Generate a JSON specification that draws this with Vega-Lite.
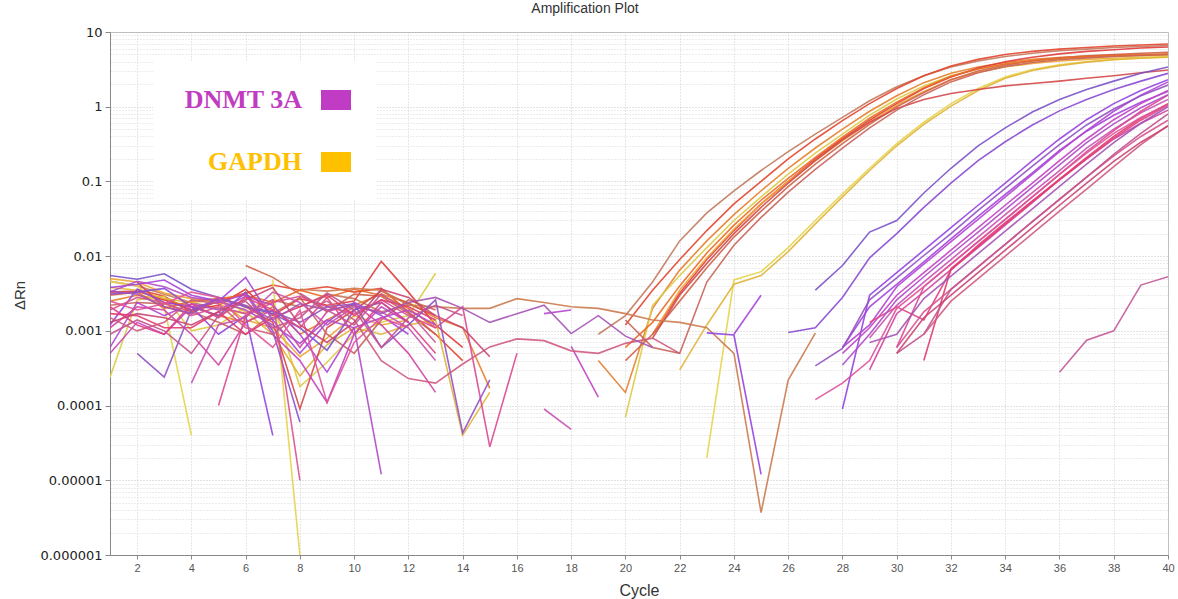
{
"$schema": "https://vega.github.io/schema/vega-lite/v6.json",
"width": 1058, "height": 523,
"autosize": "none",
"padding": {"left": 110, "top": 32, "right": 10, "bottom": 44},
"background": "white",
"title": {"text": "Amplification Plot", "font": "Liberation Sans", "fontSize": 14, "fontWeight": "normal", "color": "#333", "anchor": "middle", "frame": "group", "dx": -54, "offset": 10},
"config": {"view": {"stroke": "#bbbbbb"}},
"layer": [
{
"data": {"values": [
{"w":"G1","c":1,"v":0.0046},{"w":"G1","c":2,"v":0.004},{"w":"G1","c":3,"v":0.0031},{"w":"G1","c":4,"v":0.0024},{"w":"G1","c":5,"v":0.002},{"w":"G1","c":6,"v":0.0017},{"w":"G1","c":7,"v":0.0026},{"w":"G1","c":8,"v":0.0021},{"w":"G1","c":9,"v":0.0031},{"w":"G1","c":10,"v":0.0027},{"w":"G1","c":11,"v":0.0018},{"w":"G1","c":12,"v":0.0022},{"w":"G1","c":13,"v":null},{"w":"G1","c":19,"v":0.0009},{"w":"G1","c":20,"v":0.0016},{"w":"G1","c":21,"v":0.0045},{"w":"G1","c":22,"v":0.016},{"w":"G1","c":23,"v":0.038},{"w":"G1","c":24,"v":0.075},{"w":"G1","c":25,"v":0.14},{"w":"G1","c":26,"v":0.25},{"w":"G1","c":27,"v":0.43},{"w":"G1","c":28,"v":0.72},{"w":"G1","c":29,"v":1.2},{"w":"G1","c":30,"v":1.85},{"w":"G1","c":31,"v":2.6},{"w":"G1","c":32,"v":3.4},{"w":"G1","c":33,"v":4.1},{"w":"G1","c":34,"v":4.7},{"w":"G1","c":35,"v":5.2},{"w":"G1","c":36,"v":5.6},{"w":"G1","c":37,"v":5.9},{"w":"G1","c":38,"v":6.2},{"w":"G1","c":39,"v":6.4},{"w":"G1","c":40,"v":6.6},
{"w":"G2","c":2,"v":0.0036},{"w":"G2","c":3,"v":0.0029},{"w":"G2","c":4,"v":0.0018},{"w":"G2","c":5,"v":0.0025},{"w":"G2","c":6,"v":0.0032},{"w":"G2","c":7,"v":0.0041},{"w":"G2","c":8,"v":0.0035},{"w":"G2","c":9,"v":0.0039},{"w":"G2","c":10,"v":0.0033},{"w":"G2","c":11,"v":0.0037},{"w":"G2","c":12,"v":0.0018},{"w":"G2","c":13,"v":0.0009},{"w":"G2","c":14,"v":0.0004},{"w":"G2","c":15,"v":null},{"w":"G2","c":20,"v":0.0012},{"w":"G2","c":21,"v":0.0035},{"w":"G2","c":22,"v":0.009},{"w":"G2","c":23,"v":0.022},{"w":"G2","c":24,"v":0.05},{"w":"G2","c":25,"v":0.1},{"w":"G2","c":26,"v":0.2},{"w":"G2","c":27,"v":0.37},{"w":"G2","c":28,"v":0.65},{"w":"G2","c":29,"v":1.1},{"w":"G2","c":30,"v":1.75},{"w":"G2","c":31,"v":2.6},{"w":"G2","c":32,"v":3.5},{"w":"G2","c":33,"v":4.3},{"w":"G2","c":34,"v":5.0},{"w":"G2","c":35,"v":5.5},{"w":"G2","c":36,"v":5.9},{"w":"G2","c":37,"v":6.2},{"w":"G2","c":38,"v":6.5},{"w":"G2","c":39,"v":6.7},{"w":"G2","c":40,"v":6.9},
{"w":"G3","c":1,"v":0.0025},{"w":"G3","c":2,"v":0.003},{"w":"G3","c":3,"v":0.0026},{"w":"G3","c":4,"v":0.0021},{"w":"G3","c":5,"v":0.0016},{"w":"G3","c":6,"v":0.0013},{"w":"G3","c":7,"v":0.0021},{"w":"G3","c":8,"v":0.0009},{"w":"G3","c":9,"v":0.0014},{"w":"G3","c":10,"v":0.0022},{"w":"G3","c":11,"v":0.0031},{"w":"G3","c":12,"v":0.0024},{"w":"G3","c":13,"v":0.0015},{"w":"G3","c":14,"v":0.0011},{"w":"G3","c":15,"v":0.00017},{"w":"G3","c":16,"v":null},{"w":"G3","c":19,"v":0.0004},{"w":"G3","c":20,"v":0.00015},{"w":"G3","c":21,"v":0.002},{"w":"G3","c":22,"v":0.0065},{"w":"G3","c":23,"v":0.016},{"w":"G3","c":24,"v":0.036},{"w":"G3","c":25,"v":0.075},{"w":"G3","c":26,"v":0.15},{"w":"G3","c":27,"v":0.28},{"w":"G3","c":28,"v":0.5},{"w":"G3","c":29,"v":0.87},{"w":"G3","c":30,"v":1.4},{"w":"G3","c":31,"v":2.1},{"w":"G3","c":32,"v":2.8},{"w":"G3","c":33,"v":3.4},{"w":"G3","c":34,"v":3.9},{"w":"G3","c":35,"v":4.3},{"w":"G3","c":36,"v":4.55},{"w":"G3","c":37,"v":4.75},{"w":"G3","c":38,"v":4.9},{"w":"G3","c":39,"v":5.0},{"w":"G3","c":40,"v":5.1},
{"w":"G4","c":1,"v":0.00024},{"w":"G4","c":2,"v":0.0026},{"w":"G4","c":3,"v":0.0029},{"w":"G4","c":4,"v":0.001},{"w":"G4","c":5,"v":0.0012},{"w":"G4","c":6,"v":0.0021},{"w":"G4","c":7,"v":0.0024},{"w":"G4","c":8,"v":0.00018},{"w":"G4","c":9,"v":0.00038},{"w":"G4","c":10,"v":0.0009},{"w":"G4","c":11,"v":0.0013},{"w":"G4","c":12,"v":0.0016},{"w":"G4","c":13,"v":0.0059},{"w":"G4","c":14,"v":null},{"w":"G4","c":20,"v":0.00007},{"w":"G4","c":21,"v":0.0022},{"w":"G4","c":22,"v":0.0055},{"w":"G4","c":23,"v":0.013},{"w":"G4","c":24,"v":0.03},{"w":"G4","c":25,"v":0.062},{"w":"G4","c":26,"v":0.125},{"w":"G4","c":27,"v":0.24},{"w":"G4","c":28,"v":0.43},{"w":"G4","c":29,"v":0.77},{"w":"G4","c":30,"v":1.27},{"w":"G4","c":31,"v":1.9},{"w":"G4","c":32,"v":2.6},{"w":"G4","c":33,"v":3.2},{"w":"G4","c":34,"v":3.7},{"w":"G4","c":35,"v":4.1},{"w":"G4","c":36,"v":4.35},{"w":"G4","c":37,"v":4.55},{"w":"G4","c":38,"v":4.7},{"w":"G4","c":39,"v":4.8},{"w":"G4","c":40,"v":4.9},
{"w":"G5","c":1,"v":0.0033},{"w":"G5","c":2,"v":0.0034},{"w":"G5","c":3,"v":0.0026},{"w":"G5","c":4,"v":0.0019},{"w":"G5","c":5,"v":0.0022},{"w":"G5","c":6,"v":0.0036},{"w":"G5","c":7,"v":0.0016},{"w":"G5","c":8,"v":0.0027},{"w":"G5","c":9,"v":0.0022},{"w":"G5","c":10,"v":0.0025},{"w":"G5","c":11,"v":0.0085},{"w":"G5","c":12,"v":0.0033},{"w":"G5","c":13,"v":0.0012},{"w":"G5","c":14,"v":0.0006},{"w":"G5","c":15,"v":null},{"w":"G5","c":21,"v":0.0009},{"w":"G5","c":22,"v":0.0032},{"w":"G5","c":23,"v":0.009},{"w":"G5","c":24,"v":0.022},{"w":"G5","c":25,"v":0.05},{"w":"G5","c":26,"v":0.1},{"w":"G5","c":27,"v":0.2},{"w":"G5","c":28,"v":0.37},{"w":"G5","c":29,"v":0.66},{"w":"G5","c":30,"v":1.1},{"w":"G5","c":31,"v":1.75},{"w":"G5","c":32,"v":2.5},{"w":"G5","c":33,"v":3.3},{"w":"G5","c":34,"v":4.0},{"w":"G5","c":35,"v":4.6},{"w":"G5","c":36,"v":5.1},{"w":"G5","c":37,"v":5.5},{"w":"G5","c":38,"v":5.8},{"w":"G5","c":39,"v":6.1},{"w":"G5","c":40,"v":6.3},
{"w":"G6","c":1,"v":0.005},{"w":"G6","c":2,"v":0.0045},{"w":"G6","c":3,"v":0.0032},{"w":"G6","c":4,"v":0.0027},{"w":"G6","c":5,"v":0.0024},{"w":"G6","c":6,"v":0.0014},{"w":"G6","c":7,"v":0.0011},{"w":"G6","c":8,"v":0.00045},{"w":"G6","c":9,"v":0.0008},{"w":"G6","c":10,"v":0.0016},{"w":"G6","c":11,"v":0.0012},{"w":"G6","c":12,"v":0.0014},{"w":"G6","c":13,"v":null},{"w":"G6","c":21,"v":0.0009},{"w":"G6","c":22,"v":0.0035},{"w":"G6","c":23,"v":0.0095},{"w":"G6","c":24,"v":0.023},{"w":"G6","c":25,"v":0.05},{"w":"G6","c":26,"v":0.1},{"w":"G6","c":27,"v":0.19},{"w":"G6","c":28,"v":0.35},{"w":"G6","c":29,"v":0.62},{"w":"G6","c":30,"v":1.05},{"w":"G6","c":31,"v":1.6},{"w":"G6","c":32,"v":2.3},{"w":"G6","c":33,"v":2.9},{"w":"G6","c":34,"v":3.4},{"w":"G6","c":35,"v":3.8},{"w":"G6","c":36,"v":4.1},{"w":"G6","c":37,"v":4.3},{"w":"G6","c":38,"v":4.45},{"w":"G6","c":39,"v":4.55},{"w":"G6","c":40,"v":4.65},
{"w":"G7","c":6,"v":0.0075},{"w":"G7","c":7,"v":0.0052},{"w":"G7","c":8,"v":0.0031},{"w":"G7","c":9,"v":0.0018},{"w":"G7","c":10,"v":0.0031},{"w":"G7","c":11,"v":0.0029},{"w":"G7","c":12,"v":0.0017},{"w":"G7","c":13,"v":0.0009},{"w":"G7","c":14,"v":null},{"w":"G7","c":20,"v":0.0004},{"w":"G7","c":21,"v":0.0009},{"w":"G7","c":22,"v":0.0025},{"w":"G7","c":23,"v":0.007},{"w":"G7","c":24,"v":0.018},{"w":"G7","c":25,"v":0.04},{"w":"G7","c":26,"v":0.085},{"w":"G7","c":27,"v":0.17},{"w":"G7","c":28,"v":0.32},{"w":"G7","c":29,"v":0.58},{"w":"G7","c":30,"v":1.0},{"w":"G7","c":31,"v":1.55},{"w":"G7","c":32,"v":2.3},{"w":"G7","c":33,"v":3.0},{"w":"G7","c":34,"v":3.6},{"w":"G7","c":35,"v":4.1},{"w":"G7","c":36,"v":4.5},{"w":"G7","c":37,"v":4.8},{"w":"G7","c":38,"v":5.0},{"w":"G7","c":39,"v":5.2},{"w":"G7","c":40,"v":5.35},
{"w":"G8","c":1,"v":0.0046},{"w":"G8","c":2,"v":0.004},{"w":"G8","c":3,"v":0.0021},{"w":"G8","c":4,"v":0.00004},{"w":"G8","c":5,"v":null},{"w":"G8","c":7,"v":0.0048},{"w":"G8","c":8,"v":0.000001},{"w":"G8","c":9,"v":null},{"w":"G8","c":23,"v":0.00002},{"w":"G8","c":24,"v":0.0048},{"w":"G8","c":25,"v":0.0062},{"w":"G8","c":26,"v":0.013},{"w":"G8","c":27,"v":0.03},{"w":"G8","c":28,"v":0.068},{"w":"G8","c":29,"v":0.15},{"w":"G8","c":30,"v":0.32},{"w":"G8","c":31,"v":0.62},{"w":"G8","c":32,"v":1.1},{"w":"G8","c":33,"v":1.75},{"w":"G8","c":34,"v":2.5},{"w":"G8","c":35,"v":3.15},{"w":"G8","c":36,"v":3.65},{"w":"G8","c":37,"v":4.0},{"w":"G8","c":38,"v":4.3},{"w":"G8","c":39,"v":4.5},{"w":"G8","c":40,"v":4.65},
{"w":"G9","c":1,"v":0.0038},{"w":"G9","c":2,"v":0.0035},{"w":"G9","c":3,"v":0.0027},{"w":"G9","c":4,"v":0.0024},{"w":"G9","c":5,"v":0.0026},{"w":"G9","c":6,"v":0.0018},{"w":"G9","c":7,"v":0.0009},{"w":"G9","c":8,"v":0.00025},{"w":"G9","c":9,"v":0.00065},{"w":"G9","c":10,"v":0.0011},{"w":"G9","c":11,"v":0.0009},{"w":"G9","c":12,"v":0.0012},{"w":"G9","c":13,"v":0.0014},{"w":"G9","c":14,"v":0.00004},{"w":"G9","c":15,"v":0.00015},{"w":"G9","c":16,"v":null},{"w":"G9","c":22,"v":0.0003},{"w":"G9","c":23,"v":0.0012},{"w":"G9","c":24,"v":0.0042},{"w":"G9","c":25,"v":0.0055},{"w":"G9","c":26,"v":0.0115},{"w":"G9","c":27,"v":0.027},{"w":"G9","c":28,"v":0.062},{"w":"G9","c":29,"v":0.14},{"w":"G9","c":30,"v":0.3},{"w":"G9","c":31,"v":0.58},{"w":"G9","c":32,"v":1.02},{"w":"G9","c":33,"v":1.65},{"w":"G9","c":34,"v":2.4},{"w":"G9","c":35,"v":3.05},{"w":"G9","c":36,"v":3.55},{"w":"G9","c":37,"v":3.95},{"w":"G9","c":38,"v":4.25},{"w":"G9","c":39,"v":4.45},{"w":"G9","c":40,"v":4.6},
{"w":"G10","c":2,"v":0.0045},{"w":"G10","c":3,"v":0.0021},{"w":"G10","c":4,"v":0.0017},{"w":"G10","c":5,"v":0.0028},{"w":"G10","c":6,"v":0.0021},{"w":"G10","c":7,"v":0.0013},{"w":"G10","c":8,"v":0.00009},{"w":"G10","c":9,"v":0.0011},{"w":"G10","c":10,"v":0.0019},{"w":"G10","c":11,"v":0.0034},{"w":"G10","c":12,"v":0.0023},{"w":"G10","c":13,"v":0.0016},{"w":"G10","c":14,"v":null},{"w":"G10","c":21,"v":0.0008},{"w":"G10","c":22,"v":0.003},{"w":"G10","c":23,"v":0.008},{"w":"G10","c":24,"v":0.02},{"w":"G10","c":25,"v":0.045},{"w":"G10","c":26,"v":0.095},{"w":"G10","c":27,"v":0.19},{"w":"G10","c":28,"v":0.36},{"w":"G10","c":29,"v":0.62},{"w":"G10","c":30,"v":0.95},{"w":"G10","c":31,"v":1.25},{"w":"G10","c":32,"v":1.5},{"w":"G10","c":33,"v":1.7},{"w":"G10","c":34,"v":1.9},{"w":"G10","c":35,"v":2.05},{"w":"G10","c":36,"v":2.2},{"w":"G10","c":37,"v":2.4},{"w":"G10","c":38,"v":2.6},{"w":"G10","c":39,"v":2.85},{"w":"G10","c":40,"v":3.1},
{"w":"G11","c":1,"v":0.003},{"w":"G11","c":2,"v":0.0033},{"w":"G11","c":3,"v":0.002},{"w":"G11","c":4,"v":0.0025},{"w":"G11","c":5,"v":0.0027},{"w":"G11","c":6,"v":0.003},{"w":"G11","c":7,"v":0.0024},{"w":"G11","c":8,"v":0.0035},{"w":"G11","c":9,"v":0.0028},{"w":"G11","c":10,"v":0.0036},{"w":"G11","c":11,"v":0.003},{"w":"G11","c":12,"v":0.002},{"w":"G11","c":13,"v":0.0011},{"w":"G11","c":14,"v":null},{"w":"G11","c":20,"v":0.0006},{"w":"G11","c":21,"v":0.0013},{"w":"G11","c":22,"v":0.004},{"w":"G11","c":23,"v":0.011},{"w":"G11","c":24,"v":0.026},{"w":"G11","c":25,"v":0.056},{"w":"G11","c":26,"v":0.11},{"w":"G11","c":27,"v":0.21},{"w":"G11","c":28,"v":0.39},{"w":"G11","c":29,"v":0.7},{"w":"G11","c":30,"v":1.15},{"w":"G11","c":31,"v":1.8},{"w":"G11","c":32,"v":2.55},{"w":"G11","c":33,"v":3.2},{"w":"G11","c":34,"v":3.75},{"w":"G11","c":35,"v":4.15},{"w":"G11","c":36,"v":4.45},{"w":"G11","c":37,"v":4.65},{"w":"G11","c":38,"v":4.8},{"w":"G11","c":39,"v":4.9},{"w":"G11","c":40,"v":5.0},
{"w":"G12","c":1,"v":0.0022},{"w":"G12","c":2,"v":0.0024},{"w":"G12","c":3,"v":0.0023},{"w":"G12","c":4,"v":0.0018},{"w":"G12","c":5,"v":0.0013},{"w":"G12","c":6,"v":0.0009},{"w":"G12","c":7,"v":0.0017},{"w":"G12","c":8,"v":0.0028},{"w":"G12","c":9,"v":0.0009},{"w":"G12","c":10,"v":0.0005},{"w":"G12","c":11,"v":0.0014},{"w":"G12","c":12,"v":0.0026},{"w":"G12","c":13,"v":0.0019},{"w":"G12","c":14,"v":null},{"w":"G12","c":20,"v":0.0014},{"w":"G12","c":21,"v":0.0006},{"w":"G12","c":22,"v":0.0005},{"w":"G12","c":23,"v":0.0045},{"w":"G12","c":24,"v":0.014},{"w":"G12","c":25,"v":0.033},{"w":"G12","c":26,"v":0.072},{"w":"G12","c":27,"v":0.145},{"w":"G12","c":28,"v":0.28},{"w":"G12","c":29,"v":0.52},{"w":"G12","c":30,"v":0.9},{"w":"G12","c":31,"v":1.45},{"w":"G12","c":32,"v":2.15},{"w":"G12","c":33,"v":2.85},{"w":"G12","c":34,"v":3.45},{"w":"G12","c":35,"v":3.9},{"w":"G12","c":36,"v":4.25},{"w":"G12","c":37,"v":4.5},{"w":"G12","c":38,"v":4.7},{"w":"G12","c":39,"v":4.85},{"w":"G12","c":40,"v":5.0},
{"w":"D0","c":8,"v":0.0036},{"w":"D0","c":9,"v":0.0034},{"w":"D0","c":10,"v":0.0037},{"w":"D0","c":11,"v":0.0035},{"w":"D0","c":12,"v":0.0022},{"w":"D0","c":13,"v":0.0021},{"w":"D0","c":14,"v":0.002},{"w":"D0","c":15,"v":0.002},{"w":"D0","c":16,"v":0.0027},{"w":"D0","c":17,"v":0.0024},{"w":"D0","c":18,"v":0.0021},{"w":"D0","c":19,"v":0.002},{"w":"D0","c":20,"v":0.0017},{"w":"D0","c":21,"v":0.0014},{"w":"D0","c":22,"v":0.0013},{"w":"D0","c":23,"v":0.0011},{"w":"D0","c":24,"v":0.0005},{"w":"D0","c":25,"v":0.0000037},{"w":"D0","c":26,"v":0.00022},{"w":"D0","c":27,"v":0.00093},
{"w":"D1","c":1,"v":0.0055},{"w":"D1","c":2,"v":0.0049},{"w":"D1","c":3,"v":0.0058},{"w":"D1","c":4,"v":0.0036},{"w":"D1","c":5,"v":0.0028},{"w":"D1","c":6,"v":0.0021},{"w":"D1","c":7,"v":0.0017},{"w":"D1","c":8,"v":0.0011},{"w":"D1","c":9,"v":0.00055},{"w":"D1","c":10,"v":0.0019},{"w":"D1","c":11,"v":0.0024},{"w":"D1","c":12,"v":0.0013},{"w":"D1","c":13,"v":null},{"w":"D1","c":27,"v":0.0035},{"w":"D1","c":28,"v":0.0075},{"w":"D1","c":29,"v":0.021},{"w":"D1","c":30,"v":0.03},{"w":"D1","c":31,"v":0.07},{"w":"D1","c":32,"v":0.15},{"w":"D1","c":33,"v":0.3},{"w":"D1","c":34,"v":0.52},{"w":"D1","c":35,"v":0.85},{"w":"D1","c":36,"v":1.25},{"w":"D1","c":37,"v":1.7},{"w":"D1","c":38,"v":2.2},{"w":"D1","c":39,"v":2.8},{"w":"D1","c":40,"v":3.4},
{"w":"D2","c":1,"v":0.0031},{"w":"D2","c":2,"v":0.0033},{"w":"D2","c":3,"v":0.0037},{"w":"D2","c":4,"v":0.0021},{"w":"D2","c":5,"v":0.0016},{"w":"D2","c":6,"v":0.0033},{"w":"D2","c":7,"v":0.001},{"w":"D2","c":8,"v":0.00006},{"w":"D2","c":9,"v":null},{"w":"D2","c":26,"v":0.00095},{"w":"D2","c":27,"v":0.0011},{"w":"D2","c":28,"v":0.0028},{"w":"D2","c":29,"v":0.0095},{"w":"D2","c":30,"v":0.02},{"w":"D2","c":31,"v":0.045},{"w":"D2","c":32,"v":0.095},{"w":"D2","c":33,"v":0.19},{"w":"D2","c":34,"v":0.34},{"w":"D2","c":35,"v":0.57},{"w":"D2","c":36,"v":0.88},{"w":"D2","c":37,"v":1.25},{"w":"D2","c":38,"v":1.7},{"w":"D2","c":39,"v":2.2},{"w":"D2","c":40,"v":2.8},
{"w":"D3","c":1,"v":0.0012},{"w":"D3","c":2,"v":0.0036},{"w":"D3","c":3,"v":0.0024},{"w":"D3","c":4,"v":0.0021},{"w":"D3","c":5,"v":0.0009},{"w":"D3","c":6,"v":0.0016},{"w":"D3","c":7,"v":0.00004},{"w":"D3","c":8,"v":null},{"w":"D3","c":23,"v":0.00094},{"w":"D3","c":24,"v":0.00088},{"w":"D3","c":25,"v":0.000012},{"w":"D3","c":26,"v":null},{"w":"D3","c":28,"v":0.00009},{"w":"D3","c":29,"v":0.003},{"w":"D3","c":30,"v":0.006},{"w":"D3","c":31,"v":0.012},{"w":"D3","c":32,"v":0.024},{"w":"D3","c":33,"v":0.048},{"w":"D3","c":34,"v":0.095},{"w":"D3","c":35,"v":0.19},{"w":"D3","c":36,"v":0.37},{"w":"D3","c":37,"v":0.67},{"w":"D3","c":38,"v":1.1},{"w":"D3","c":39,"v":1.65},{"w":"D3","c":40,"v":2.3},
{"w":"D4","c":1,"v":0.0038},{"w":"D4","c":2,"v":0.0042},{"w":"D4","c":3,"v":0.0048},{"w":"D4","c":4,"v":0.003},{"w":"D4","c":5,"v":0.0025},{"w":"D4","c":6,"v":0.0052},{"w":"D4","c":7,"v":0.0014},{"w":"D4","c":8,"v":0.0005},{"w":"D4","c":9,"v":0.0013},{"w":"D4","c":10,"v":0.0024},{"w":"D4","c":11,"v":0.0016},{"w":"D4","c":12,"v":0.0009},{"w":"D4","c":13,"v":null},{"w":"D4","c":24,"v":0.0009},{"w":"D4","c":25,"v":0.003},{"w":"D4","c":26,"v":null},{"w":"D4","c":28,"v":0.0006},{"w":"D4","c":29,"v":0.0021},{"w":"D4","c":30,"v":0.0042},{"w":"D4","c":31,"v":0.0084},{"w":"D4","c":32,"v":0.017},{"w":"D4","c":33,"v":0.034},{"w":"D4","c":34,"v":0.067},{"w":"D4","c":35,"v":0.13},{"w":"D4","c":36,"v":0.26},{"w":"D4","c":37,"v":0.47},{"w":"D4","c":38,"v":0.77},{"w":"D4","c":39,"v":1.15},{"w":"D4","c":40,"v":1.6},
{"w":"D5","c":1,"v":0.0006},{"w":"D5","c":2,"v":0.0024},{"w":"D5","c":3,"v":0.0016},{"w":"D5","c":4,"v":0.0023},{"w":"D5","c":5,"v":0.0019},{"w":"D5","c":6,"v":0.0029},{"w":"D5","c":7,"v":0.0022},{"w":"D5","c":8,"v":0.0009},{"w":"D5","c":9,"v":0.00028},{"w":"D5","c":10,"v":0.0011},{"w":"D5","c":11,"v":0.0015},{"w":"D5","c":12,"v":0.0019},{"w":"D5","c":13,"v":0.0012},{"w":"D5","c":14,"v":null},{"w":"D5","c":17,"v":0.0017},{"w":"D5","c":18,"v":0.0019},{"w":"D5","c":19,"v":null},{"w":"D5","c":28,"v":0.0006},{"w":"D5","c":29,"v":0.0012},{"w":"D5","c":30,"v":0.0039},{"w":"D5","c":31,"v":0.0078},{"w":"D5","c":32,"v":0.0156},{"w":"D5","c":33,"v":0.031},{"w":"D5","c":34,"v":0.062},{"w":"D5","c":35,"v":0.124},{"w":"D5","c":36,"v":0.25},{"w":"D5","c":37,"v":0.48},{"w":"D5","c":38,"v":0.87},{"w":"D5","c":39,"v":1.43},{"w":"D5","c":40,"v":2.15},
{"w":"D6","c":1,"v":0.0005},{"w":"D6","c":2,"v":0.0013},{"w":"D6","c":3,"v":0.0009},{"w":"D6","c":4,"v":0.0021},{"w":"D6","c":5,"v":0.0024},{"w":"D6","c":6,"v":0.0031},{"w":"D6","c":7,"v":0.0009},{"w":"D6","c":8,"v":0.0004},{"w":"D6","c":9,"v":0.00011},{"w":"D6","c":10,"v":0.0009},{"w":"D6","c":11,"v":0.0021},{"w":"D6","c":12,"v":0.0013},{"w":"D6","c":13,"v":null},{"w":"D6","c":18,"v":0.00062},{"w":"D6","c":19,"v":0.00013},{"w":"D6","c":20,"v":null},{"w":"D6","c":28,"v":0.0005},{"w":"D6","c":29,"v":0.0011},{"w":"D6","c":30,"v":0.003},{"w":"D6","c":31,"v":0.006},{"w":"D6","c":32,"v":0.012},{"w":"D6","c":33,"v":0.024},{"w":"D6","c":34,"v":0.048},{"w":"D6","c":35,"v":0.095},{"w":"D6","c":36,"v":0.19},{"w":"D6","c":37,"v":0.37},{"w":"D6","c":38,"v":0.67},{"w":"D6","c":39,"v":1.1},{"w":"D6","c":40,"v":1.65},
{"w":"D7","c":4,"v":0.0002},{"w":"D7","c":5,"v":0.0012},{"w":"D7","c":6,"v":0.0015},{"w":"D7","c":7,"v":0.0033},{"w":"D7","c":8,"v":0.0024},{"w":"D7","c":9,"v":0.0012},{"w":"D7","c":10,"v":0.0021},{"w":"D7","c":11,"v":0.0018},{"w":"D7","c":12,"v":0.0011},{"w":"D7","c":13,"v":0.0004},{"w":"D7","c":14,"v":null},{"w":"D7","c":17,"v":0.00009},{"w":"D7","c":18,"v":0.000048},{"w":"D7","c":19,"v":null},{"w":"D7","c":29,"v":0.0008},{"w":"D7","c":30,"v":0.0022},{"w":"D7","c":31,"v":0.0045},{"w":"D7","c":32,"v":0.009},{"w":"D7","c":33,"v":0.018},{"w":"D7","c":34,"v":0.036},{"w":"D7","c":35,"v":0.071},{"w":"D7","c":36,"v":0.14},{"w":"D7","c":37,"v":0.28},{"w":"D7","c":38,"v":0.5},{"w":"D7","c":39,"v":0.83},{"w":"D7","c":40,"v":1.25},
{"w":"D8","c":1,"v":0.0011},{"w":"D8","c":2,"v":0.0021},{"w":"D8","c":3,"v":0.0019},{"w":"D8","c":4,"v":0.0009},{"w":"D8","c":5,"v":0.00035},{"w":"D8","c":6,"v":0.0013},{"w":"D8","c":7,"v":0.0019},{"w":"D8","c":8,"v":0.0006},{"w":"D8","c":9,"v":0.0018},{"w":"D8","c":10,"v":0.0023},{"w":"D8","c":11,"v":0.0012},{"w":"D8","c":12,"v":0.0005},{"w":"D8","c":13,"v":0.00015},{"w":"D8","c":14,"v":null},{"w":"D8","c":29,"v":0.0003},{"w":"D8","c":30,"v":0.0017},{"w":"D8","c":31,"v":0.0033},{"w":"D8","c":32,"v":0.0066},{"w":"D8","c":33,"v":0.013},{"w":"D8","c":34,"v":0.026},{"w":"D8","c":35,"v":0.052},{"w":"D8","c":36,"v":0.105},{"w":"D8","c":37,"v":0.2},{"w":"D8","c":38,"v":0.37},{"w":"D8","c":39,"v":0.6},{"w":"D8","c":40,"v":0.9},
{"w":"D9","c":5,"v":0.0001},{"w":"D9","c":6,"v":0.0016},{"w":"D9","c":7,"v":0.0024},{"w":"D9","c":8,"v":0.0029},{"w":"D9","c":9,"v":0.0021},{"w":"D9","c":10,"v":0.0017},{"w":"D9","c":11,"v":0.0026},{"w":"D9","c":12,"v":0.0016},{"w":"D9","c":13,"v":0.0011},{"w":"D9","c":14,"v":0.0021},{"w":"D9","c":15,"v":0.000028},{"w":"D9","c":16,"v":0.0005},{"w":"D9","c":17,"v":null},{"w":"D9","c":30,"v":0.0006},{"w":"D9","c":31,"v":0.0039},{"w":"D9","c":32,"v":0.0078},{"w":"D9","c":33,"v":0.0156},{"w":"D9","c":34,"v":0.031},{"w":"D9","c":35,"v":0.062},{"w":"D9","c":36,"v":0.124},{"w":"D9","c":37,"v":0.25},{"w":"D9","c":38,"v":0.48},{"w":"D9","c":39,"v":0.87},{"w":"D9","c":40,"v":1.43},
{"w":"D10","c":1,"v":0.0021},{"w":"D10","c":2,"v":0.0012},{"w":"D10","c":3,"v":0.0009},{"w":"D10","c":4,"v":0.0023},{"w":"D10","c":5,"v":0.0015},{"w":"D10","c":6,"v":0.0028},{"w":"D10","c":7,"v":0.0019},{"w":"D10","c":8,"v":0.0011},{"w":"D10","c":9,"v":0.0028},{"w":"D10","c":10,"v":0.0009},{"w":"D10","c":11,"v":0.0024},{"w":"D10","c":12,"v":0.0013},{"w":"D10","c":13,"v":0.0005},{"w":"D10","c":14,"v":null},{"w":"D10","c":29,"v":0.0013},{"w":"D10","c":30,"v":0.0021},{"w":"D10","c":31,"v":0.0014},{"w":"D10","c":32,"v":0.0065},{"w":"D10","c":33,"v":0.014},{"w":"D10","c":34,"v":0.028},{"w":"D10","c":35,"v":0.055},{"w":"D10","c":36,"v":0.105},{"w":"D10","c":37,"v":0.2},{"w":"D10","c":38,"v":0.38},{"w":"D10","c":39,"v":0.66},{"w":"D10","c":40,"v":1.05},
{"w":"D11","c":1,"v":0.0017},{"w":"D11","c":2,"v":0.0016},{"w":"D11","c":3,"v":0.0011},{"w":"D11","c":4,"v":0.0011},{"w":"D11","c":5,"v":0.0018},{"w":"D11","c":6,"v":0.0009},{"w":"D11","c":7,"v":0.0015},{"w":"D11","c":8,"v":0.0021},{"w":"D11","c":9,"v":0.003},{"w":"D11","c":10,"v":0.0016},{"w":"D11","c":11,"v":0.0026},{"w":"D11","c":12,"v":0.0021},{"w":"D11","c":13,"v":0.0014},{"w":"D11","c":14,"v":null},{"w":"D11","c":31,"v":0.0004},{"w":"D11","c":32,"v":0.0068},{"w":"D11","c":33,"v":0.0135},{"w":"D11","c":34,"v":0.027},{"w":"D11","c":35,"v":0.054},{"w":"D11","c":36,"v":0.107},{"w":"D11","c":37,"v":0.21},{"w":"D11","c":38,"v":0.4},{"w":"D11","c":39,"v":0.7},{"w":"D11","c":40,"v":1.1},
{"w":"D12","c":2,"v":0.0005},{"w":"D12","c":3,"v":0.00024},{"w":"D12","c":4,"v":0.0019},{"w":"D12","c":5,"v":0.0027},{"w":"D12","c":6,"v":0.0021},{"w":"D12","c":7,"v":0.0018},{"w":"D12","c":8,"v":0.0013},{"w":"D12","c":9,"v":0.0021},{"w":"D12","c":10,"v":0.0023},{"w":"D12","c":11,"v":0.0006},{"w":"D12","c":12,"v":0.0012},{"w":"D12","c":13,"v":0.0026},{"w":"D12","c":14,"v":0.000043},{"w":"D12","c":15,"v":0.00022},{"w":"D12","c":16,"v":null},{"w":"D12","c":27,"v":0.00034},{"w":"D12","c":28,"v":0.00058},{"w":"D12","c":29,"v":0.0026},{"w":"D12","c":30,"v":0.0051},{"w":"D12","c":31,"v":0.0102},{"w":"D12","c":32,"v":0.02},{"w":"D12","c":33,"v":0.041},{"w":"D12","c":34,"v":0.081},{"w":"D12","c":35,"v":0.16},{"w":"D12","c":36,"v":0.31},{"w":"D12","c":37,"v":0.57},{"w":"D12","c":38,"v":0.93},{"w":"D12","c":39,"v":1.4},{"w":"D12","c":40,"v":1.95},
{"w":"D13","c":1,"v":0.0033},{"w":"D13","c":2,"v":0.0046},{"w":"D13","c":3,"v":0.0039},{"w":"D13","c":4,"v":0.0028},{"w":"D13","c":5,"v":0.0025},{"w":"D13","c":6,"v":0.0019},{"w":"D13","c":7,"v":0.0012},{"w":"D13","c":8,"v":0.00068},{"w":"D13","c":9,"v":0.0014},{"w":"D13","c":10,"v":0.0011},{"w":"D13","c":11,"v":0.000012},{"w":"D13","c":12,"v":null},{"w":"D13","c":28,"v":0.00035},{"w":"D13","c":29,"v":0.0009},{"w":"D13","c":30,"v":0.0026},{"w":"D13","c":31,"v":0.0053},{"w":"D13","c":32,"v":0.0106},{"w":"D13","c":33,"v":0.021},{"w":"D13","c":34,"v":0.042},{"w":"D13","c":35,"v":0.084},{"w":"D13","c":36,"v":0.167},{"w":"D13","c":37,"v":0.33},{"w":"D13","c":38,"v":0.59},{"w":"D13","c":39,"v":0.97},{"w":"D13","c":40,"v":1.45},
{"w":"D14","c":1,"v":0.0019},{"w":"D14","c":2,"v":0.0028},{"w":"D14","c":3,"v":0.0024},{"w":"D14","c":4,"v":0.0016},{"w":"D14","c":5,"v":0.0021},{"w":"D14","c":6,"v":0.0017},{"w":"D14","c":7,"v":0.0026},{"w":"D14","c":8,"v":0.00001},{"w":"D14","c":9,"v":null},{"w":"D14","c":30,"v":0.0006},{"w":"D14","c":31,"v":0.0018},{"w":"D14","c":32,"v":0.0036},{"w":"D14","c":33,"v":0.0072},{"w":"D14","c":34,"v":0.0144},{"w":"D14","c":35,"v":0.029},{"w":"D14","c":36,"v":0.057},{"w":"D14","c":37,"v":0.114},{"w":"D14","c":38,"v":0.22},{"w":"D14","c":39,"v":0.4},{"w":"D14","c":40,"v":0.66},
{"w":"D15","c":1,"v":0.0009},{"w":"D15","c":2,"v":0.0014},{"w":"D15","c":3,"v":0.001},{"w":"D15","c":4,"v":0.0005},{"w":"D15","c":5,"v":0.0016},{"w":"D15","c":6,"v":0.0025},{"w":"D15","c":7,"v":0.0011},{"w":"D15","c":8,"v":0.0015},{"w":"D15","c":9,"v":0.0032},{"w":"D15","c":10,"v":0.0019},{"w":"D15","c":11,"v":0.0006},{"w":"D15","c":12,"v":0.0015},{"w":"D15","c":13,"v":0.0022},{"w":"D15","c":14,"v":0.0016},{"w":"D15","c":15,"v":null},{"w":"D15","c":30,"v":0.0005},{"w":"D15","c":31,"v":0.0009},{"w":"D15","c":32,"v":0.0036},{"w":"D15","c":33,"v":0.0072},{"w":"D15","c":34,"v":0.0144},{"w":"D15","c":35,"v":0.029},{"w":"D15","c":36,"v":0.058},{"w":"D15","c":37,"v":0.114},{"w":"D15","c":38,"v":0.23},{"w":"D15","c":39,"v":0.44},{"w":"D15","c":40,"v":0.8},
{"w":"D16","c":1,"v":0.0015},{"w":"D16","c":2,"v":0.001},{"w":"D16","c":3,"v":0.0013},{"w":"D16","c":4,"v":0.0026},{"w":"D16","c":5,"v":0.0023},{"w":"D16","c":6,"v":0.0011},{"w":"D16","c":7,"v":0.0009},{"w":"D16","c":8,"v":0.0017},{"w":"D16","c":9,"v":0.0025},{"w":"D16","c":10,"v":0.0014},{"w":"D16","c":11,"v":0.0004},{"w":"D16","c":12,"v":0.00023},{"w":"D16","c":13,"v":0.0002},{"w":"D16","c":14,"v":0.00036},{"w":"D16","c":15,"v":0.00061},{"w":"D16","c":16,"v":0.00078},{"w":"D16","c":17,"v":0.00074},{"w":"D16","c":18,"v":0.00054},{"w":"D16","c":19,"v":0.0005},{"w":"D16","c":20,"v":0.00068},{"w":"D16","c":21,"v":0.0008},{"w":"D16","c":22,"v":0.0005},{"w":"D16","c":23,"v":null},{"w":"D16","c":31,"v":0.0009},{"w":"D16","c":32,"v":0.0025},{"w":"D16","c":33,"v":0.005},{"w":"D16","c":34,"v":0.01},{"w":"D16","c":35,"v":0.02},{"w":"D16","c":36,"v":0.04},{"w":"D16","c":37,"v":0.079},{"w":"D16","c":38,"v":0.158},{"w":"D16","c":39,"v":0.31},{"w":"D16","c":40,"v":0.56},
{"w":"D17","c":1,"v":0.0034},{"w":"D17","c":2,"v":0.0031},{"w":"D17","c":3,"v":0.0021},{"w":"D17","c":4,"v":0.0017},{"w":"D17","c":5,"v":0.0027},{"w":"D17","c":6,"v":0.0022},{"w":"D17","c":7,"v":0.0014},{"w":"D17","c":8,"v":0.0023},{"w":"D17","c":9,"v":0.0019},{"w":"D17","c":10,"v":0.0022},{"w":"D17","c":11,"v":0.0017},{"w":"D17","c":12,"v":0.0024},{"w":"D17","c":13,"v":0.0028},{"w":"D17","c":14,"v":0.002},{"w":"D17","c":15,"v":0.0013},{"w":"D17","c":16,"v":0.0017},{"w":"D17","c":17,"v":0.0022},{"w":"D17","c":18,"v":0.00092},{"w":"D17","c":19,"v":0.0016},{"w":"D17","c":20,"v":0.00085},{"w":"D17","c":21,"v":0.0006},{"w":"D17","c":22,"v":null},{"w":"D17","c":29,"v":0.0007},{"w":"D17","c":30,"v":0.0009},{"w":"D17","c":31,"v":0.0027},{"w":"D17","c":32,"v":0.0054},{"w":"D17","c":33,"v":0.0108},{"w":"D17","c":34,"v":0.0216},{"w":"D17","c":35,"v":0.043},{"w":"D17","c":36,"v":0.086},{"w":"D17","c":37,"v":0.17},{"w":"D17","c":38,"v":0.33},{"w":"D17","c":39,"v":0.6},{"w":"D17","c":40,"v":1.0},
{"w":"D18","c":1,"v":0.0025},{"w":"D18","c":2,"v":0.0019},{"w":"D18","c":3,"v":0.0023},{"w":"D18","c":4,"v":0.0033},{"w":"D18","c":5,"v":0.0028},{"w":"D18","c":6,"v":0.0012},{"w":"D18","c":7,"v":0.0006},{"w":"D18","c":8,"v":0.0019},{"w":"D18","c":9,"v":0.00011},{"w":"D18","c":10,"v":0.0007},{"w":"D18","c":11,"v":0.0015},{"w":"D18","c":12,"v":0.0011},{"w":"D18","c":13,"v":null},{"w":"D18","c":27,"v":0.00012},{"w":"D18","c":28,"v":0.0002},{"w":"D18","c":29,"v":0.0004},{"w":"D18","c":30,"v":0.002},{"w":"D18","c":31,"v":0.0039},{"w":"D18","c":32,"v":0.0078},{"w":"D18","c":33,"v":0.0156},{"w":"D18","c":34,"v":0.031},{"w":"D18","c":35,"v":0.062},{"w":"D18","c":36,"v":0.124},{"w":"D18","c":37,"v":0.24},{"w":"D18","c":38,"v":0.44},{"w":"D18","c":39,"v":0.72},{"w":"D18","c":40,"v":1.07},
{"w":"D19","c":1,"v":0.0013},{"w":"D19","c":2,"v":0.0017},{"w":"D19","c":3,"v":0.0015},{"w":"D19","c":4,"v":0.0012},{"w":"D19","c":5,"v":0.0018},{"w":"D19","c":6,"v":0.0026},{"w":"D19","c":7,"v":0.0038},{"w":"D19","c":8,"v":0.0012},{"w":"D19","c":9,"v":0.0007},{"w":"D19","c":10,"v":0.0013},{"w":"D19","c":11,"v":0.0036},{"w":"D19","c":12,"v":0.0028},{"w":"D19","c":13,"v":0.0016},{"w":"D19","c":14,"v":0.0011},{"w":"D19","c":15,"v":0.00045},{"w":"D19","c":16,"v":null},{"w":"D19","c":30,"v":0.0005},{"w":"D19","c":31,"v":0.0015},{"w":"D19","c":32,"v":0.003},{"w":"D19","c":33,"v":0.006},{"w":"D19","c":34,"v":0.012},{"w":"D19","c":35,"v":0.024},{"w":"D19","c":36,"v":0.048},{"w":"D19","c":37,"v":0.095},{"w":"D19","c":38,"v":0.185},{"w":"D19","c":39,"v":0.335},{"w":"D19","c":40,"v":0.55},
{"w":"L1","c":8,"v":0.0032},{"w":"L1","c":9,"v":0.0019},{"w":"L1","c":10,"v":0.0012},{"w":"L1","c":11,"v":0.0031},{"w":"L1","c":12,"v":0.0018},{"w":"L1","c":13,"v":0.0007},{"w":"L1","c":14,"v":null},{"w":"L1","c":36,"v":0.00028},{"w":"L1","c":37,"v":0.00075},{"w":"L1","c":38,"v":0.001},{"w":"L1","c":39,"v":0.0041},{"w":"L1","c":40,"v":0.0053}
]},
"mark": {"type": "line", "strokeWidth": 1.6, "opacity": 0.9, "invalid": "break-paths-filter-domains", "clip": true},
"encoding": {
"x": {"field": "c", "type": "quantitative", "scale": {"domain": [1, 40], "nice": false, "zero": false},
 "axis": {"values": [2,4,6,8,10,12,14,16,18,20,22,24,26,28,30,32,34,36,38,40], "grid": true, "gridColor": "#cfcfcf", "gridDash": [1, 2], "domainColor": "#888888", "tickColor": "#888888", "tickSize": 4, "labelFont": "Liberation Sans", "labelFontSize": 11, "labelColor": "#555555", "labelPadding": 3, "labelFlush": false, "title": "Cycle", "titleFont": "Liberation Sans", "titleFontSize": 16, "titleFontWeight": "normal", "titleColor": "#333333", "titlePadding": 9}},
"y": {"field": "v", "type": "quantitative", "scale": {"type": "log", "domain": [0.000001, 10], "nice": false},
 "axis": {"values": [0.000001,0.000002,0.000003,0.000004,0.000005,0.000006,0.000007,0.000008,0.000009,0.00001,0.00002,0.00003,0.00004,0.00005,0.00006,0.00007,0.00008,0.00009,0.0001,0.0002,0.0003,0.0004,0.0005,0.0006,0.0007,0.0008,0.0009,0.001,0.002,0.003,0.004,0.005,0.006,0.007,0.008,0.009,0.01,0.02,0.03,0.04,0.05,0.06,0.07,0.08,0.09,0.1,0.2,0.3,0.4,0.5,0.6,0.7,0.8,0.9,1,2,3,4,5,6,7,8,9,10],
  "labelExpr": "abs(log(datum.value)/LN10 - round(log(datum.value)/LN10)) < 0.01 ? format(datum.value, '.6~f') : ''",
  "labelOverlap": false, "labelFlush": false,
  "grid": true, "gridDash": [1, 2],
  "gridColor": {"condition": {"test": "abs(log(datum.value)/LN10 - round(log(datum.value)/LN10)) < 0.01", "value": "#c4c4c4"}, "value": "#d8d8d8"},
  "tickOpacity": {"condition": {"test": "abs(log(datum.value)/LN10 - round(log(datum.value)/LN10)) < 0.01", "value": 1}, "value": 0},
  "tickSize": 5, "tickColor": "#888888", "domainColor": "#888888",
  "labelFont": "DejaVu Sans", "labelFontSize": 13, "labelColor": "#222222", "labelPadding": 3,
  "title": "ΔRn", "titleFont": "Liberation Sans", "titleFontSize": 15, "titleFontWeight": "normal", "titleColor": "#333333", "titleX": -83, "titleY": 263}},
"stroke": {"field": "w", "type": "nominal", "legend": null,
 "scale": {"domain": ["G1","G2","G3","G4","G5","G6","G7","G8","G9","G10","G11","G12","D0","D1","D2","D3","D4","D5","D6","D7","D8","D9","D10","D11","D12","D13","D14","D15","D16","D17","D18","D19","L1"],
  "range": ["#C27A5E","#E2452E","#E5802E","#DCCB45","#E03A3A","#EFA534","#CF6249","#E6D44A","#E0B238","#D44848","#EA6A24","#C9645A","#CC7A4E","#7A52C8","#8A4AD2","#9442E0","#A444DA","#B244D2","#C242C2","#C952B2","#D244A2","#DA4A92","#E04282","#E23A6E","#9152C2","#B04AC8","#D85290","#C2548E","#CF5A80","#A454B4","#E0529A","#C94472","#C25A98"]}}
}
},
{
"data": {"values": [{"gene": "DNMT 3A"}, {"gene": "GAPDH"}]},
"mark": {"type": "square", "opacity": 0},
"encoding": {
"color": {"field": "gene", "type": "nominal",
 "scale": {"domain": ["DNMT 3A", "GAPDH"], "range": ["#C03CC4", "#FFC000"]},
 "legend": {"title": null, "orient": "none", "legendX": 43, "legendY": 30, "direction": "vertical",
  "fillColor": "white", "padding": 25,
  "symbolType": "M-1.5,-1H1.5V1H-1.5Z", "symbolSize": 400, "symbolOpacity": 1, "symbolStrokeWidth": 0, "symbolOffset": 145,
  "labelFont": "Liberation Serif", "labelFontSize": 26, "labelFontWeight": "bold", "labelAlign": "right", "labelOffset": -47, "labelLimit": 0,
  "rowPadding": 36,
  "encode": {"labels": {"update": {"fill": {"signal": "datum.value === 'GAPDH' ? '#FFC000' : '#C03CC0'"}}}}}}
}
}
]
}
